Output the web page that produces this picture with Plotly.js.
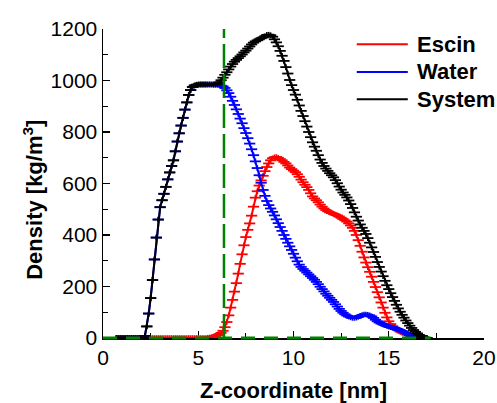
<!DOCTYPE html>
<html>
<head>
<meta charset="utf-8">
<script src="https://cdn.plot.ly/plotly-3.0.1.min.js"></script>
<style>html,body{margin:0;padding:0;background:#fff;}#chart{width:497px;height:403px;}</style>
</head>
<body>
<div id="chart"></div>
<script>
// Z-coordinate (nm)
const zCoord = [
  0.7,0.8,0.9,
  1.0,1.1,1.2,1.3,1.4,1.5,1.6,1.7,1.8,1.9,
  2.0,2.1,2.2,2.3,2.4,2.5,2.6,2.7,2.8,2.9,
  3.0,3.1,3.2,3.3,3.4,3.5,3.6,3.7,3.8,3.9,
  4.0,4.1,4.2,4.3,4.4,4.5,4.6,4.7,4.8,4.9,
  5.0,5.1,5.2,5.3,5.4,5.5,5.6,5.7,5.8,5.9,
  6.0,6.1,6.2,6.3,6.4,6.5,6.6,6.7,6.8,6.9,
  7.0,7.1,7.2,7.3,7.4,7.5,7.6,7.7,7.8,7.9,
  8.0,8.1,8.2,8.3,8.4,8.5,8.6,8.7,8.8,8.9,
  9.0,9.1,9.2,9.3,9.4,9.5,9.6,9.7,9.8,9.9,
  10.0,10.1,10.2,10.3,10.4,10.5,10.6,10.7,10.8,10.9,
  11.0,11.1,11.2,11.3,11.4,11.5,11.6,11.7,11.8,11.9,
  12.0,12.1,12.2,12.3,12.4,12.5,12.6,12.7,12.8,12.9,
  13.0,13.1,13.2,13.3,13.4,13.5,13.6,13.7,13.8,13.9,
  14.0,14.1,14.2,14.3,14.4,14.5,14.6,14.7,14.8,14.9,
  15.0,15.1,15.2,15.3,15.4,15.5,15.6,15.7,15.8,15.9,
  16.0,16.1,16.2,16.3,16.4,16.5,16.6,16.7,16.8,16.9,
  17.0
];

// Escin density (kg/m^3)
const escin = [
  0,0,0,
  0,0,0,0,0,0,0,0,0,0,
  0,0,0,0,0,0,0,0,0,0,
  0,0,0,0,0,0,0,0,0,0,
  0,0,0,0,0,0,0,0,0,0,
  0,0,0,0,0,1,2,3,5,8,
  11,15,20,28,42,62,88,118,148,180,
  213,250,288,325,360,392,420,445,475,510,
  545,570,592,612,630,648,664,678,690,698,
  702,703,700,695,690,684,678,670,662,656,
  650,644,636,626,615,605,595,586,575,562,
  550,542,535,527,518,510,503,497,492,488,
  485,482,479,476,472,467,462,457,452,445,
  437,428,416,400,380,358,335,313,293,275,
  257,238,218,198,178,158,138,118,98,80,
  65,54,46,40,35,30,25,21,18,15,
  13,11,8,5,3,1,0,0,0,0,
  0
];

// Water density (kg/m^3)
const water = [
  0,0,0,
  0,0,0,0,0,0,0,0,0,0,
  0,0,8,45,95,155,225,305,390,460,
  508,535,560,587,616,643,668,690,725,763,
  795,825,855,887,915,944,963,975,980,982,
  983,984,984,984,984,984,984,984,983,983,
  983,982,980,977,971,962,951,937,921,905,
  888,870,852,834,815,796,776,755,733,710,
  686,660,632,603,575,552,532,516,503,490,
  476,461,446,431,416,400,385,370,356,342,
  327,312,298,285,276,268,261,254,247,240,
  233,226,218,209,199,190,181,172,164,156,
  148,140,131,122,113,105,98,92,87,83,
  80,78,78,79,82,86,89,91,91,90,
  88,84,78,71,65,60,56,53,50,47,
  44,42,40,38,36,33,30,27,23,19,
  15,11,8,5,3,1,0,0,0,0,
  0
];

// System density (kg/m^3)
const system = [
  0,0,0,
  0,0,0,0,0,0,0,0,0,0,
  0,0,8,45,95,155,225,305,390,460,
  508,535,560,587,616,643,668,690,725,763,
  795,825,855,887,915,944,963,975,981,984,
  985,985,985,985,985,985,985,985,985,985,
  987,993,1001,1011,1022,1032,1043,1054,1064,1073,
  1080,1087,1094,1101,1109,1116,1124,1132,1140,1147,
  1152,1156,1160,1164,1167,1172,1177,1178,1176,1170,
  1160,1148,1133,1115,1096,1076,1052,1027,1002,982,
  963,945,925,903,882,862,842,821,800,780,
  760,743,727,710,693,680,668,658,649,640,
  632,624,613,601,588,576,565,556,546,534,
  520,505,488,471,456,441,428,416,404,388,
  370,352,334,315,295,276,258,240,222,205,
  190,174,159,144,129,115,102,90,79,68,
  58,48,39,31,24,18,12,7,4,1,
  0
];

// Green dashed reference lines
const boundaryZ = 6.35;
const guideX = [0, 17.2];
const boundaryY = [0, 1200];

const seriesNames = ['Escin', 'Water', 'System'];
const seriesColors = ['#ff0000', '#0000ff', '#000000'];
const seriesValues = [escin, water, system];

const FONT = 'Liberation Sans, Arial, sans-serif';

const traces = [];
seriesValues.forEach((vals, i) => {
  // line with the horizontal stroke of each "+" marker
  traces.push({
    x: zCoord, y: vals, type: 'scatter', mode: 'lines+markers',
    name: seriesNames[i], showlegend: false,
    line: {color: seriesColors[i], width: 2},
    marker: {symbol: 'line-ew', size: 8, line: {color: seriesColors[i], width: 1.8}}
  });
  // vertical stroke of each "+" marker (short)
  traces.push({
    x: zCoord, y: vals, type: 'scatter', mode: 'markers',
    name: seriesNames[i], showlegend: false,
    marker: {symbol: 'line-ns', size: 4, line: {color: seriesColors[i], width: 1.6}}
  });
});
traces.push({
  x: [boundaryZ, boundaryZ], y: boundaryY, type: 'scatter', mode: 'lines', showlegend: false,
  line: {color: '#008000', width: 2.5, dash: '24px,6px'}, hoverinfo: 'skip'
});

// Legend drawn as line samples + text labels
const legendRowsY = [0.951, 0.861, 0.773];
const shapes = seriesNames.map((n, i) => ({
  type: 'line', xref: 'paper', yref: 'paper',
  x0: 0.666, x1: 0.80, y0: legendRowsY[i], y1: legendRowsY[i],
  line: {color: seriesColors[i], width: 2}
}));
// horizontal green guide along the zero baseline
shapes.push({
  type: 'line', xref: 'x', yref: 'paper', layer: 'above',
  x0: guideX[0], x1: guideX[1], y0: 0, y1: 0,
  line: {color: '#008000', width: 3, dash: '14px,9px'}
});
const legendLabels = seriesNames.map((n, i) => ({
  text: '<b>' + n + '</b>', xref: 'paper', yref: 'paper',
  x: 0.818, y: legendRowsY[i], xanchor: 'left', yanchor: 'middle', showarrow: false,
  font: {family: FONT, size: 22, color: '#000'}
}));

const layout = {
  width: 497, height: 403,
  margin: {l: 103, r: 13, t: 29, b: 65},
  paper_bgcolor: '#ffffff', plot_bgcolor: '#ffffff',
  font: {family: FONT, color: '#000', size: 21},
  showlegend: false,
  xaxis: {
    range: [0, 20], dtick: 5, tick0: 0,
    ticks: 'inside', ticklen: 7, tickwidth: 1.2, tickcolor: '#000',
    minor: {dtick: 2.5, ticks: 'inside', ticklen: 5, tickwidth: 1.2, tickcolor: '#000'},
    showline: true, linecolor: '#000', linewidth: 1.5, layer: 'below traces',
    showgrid: false, zeroline: false,
    tickfont: {family: FONT, size: 21},
    title: {text: '<b>Z-coordinate [nm]</b>', font: {family: FONT, size: 22}, standoff: 18}
  },
  yaxis: {
    range: [0, 1200], dtick: 200, tick0: 0,
    ticks: 'inside', ticklen: 7, tickwidth: 1.2, tickcolor: '#000',
    minor: {dtick: 100, ticks: 'inside', ticklen: 5, tickwidth: 1.2, tickcolor: '#000'},
    showline: true, linecolor: '#000', linewidth: 1.5, layer: 'below traces',
    showgrid: false, zeroline: false,
    tickfont: {family: FONT, size: 21}
  },
  shapes: shapes,
  annotations: [{
    text: '<b>Density [kg/m<sup>3</sup>]</b>',
    xref: 'paper', yref: 'paper', x: -0.184, y: 0.447,
    xanchor: 'center', yanchor: 'middle', textangle: -90, showarrow: false,
    font: {family: FONT, size: 22, color: '#000'}
  }].concat(legendLabels)
};

Plotly.newPlot('chart', traces, layout, {displayModeBar: false, staticPlot: true});
</script>
</body>
</html>
